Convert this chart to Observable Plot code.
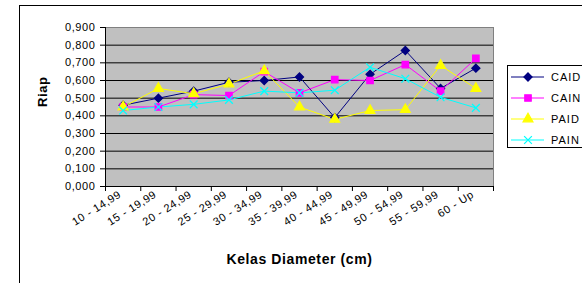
<!DOCTYPE html>
<html><head><meta charset="utf-8">
<script src="https://cdn.jsdelivr.net/npm/d3@7"></script>
<script src="https://cdn.jsdelivr.net/npm/@observablehq/plot@0.6"></script>
<style>
html,body{margin:0;padding:0;background:#fff;}
#wrap{position:relative;width:582px;height:283px;overflow:hidden;font-family:"Liberation Sans",Arial,sans-serif;}
#outer{position:absolute;left:19px;top:5px;width:700px;height:400px;border:1px solid #000;box-sizing:border-box;}
#chart{position:absolute;left:0;top:0;}
#chart svg text{letter-spacing:0.6px;}
#legend{position:absolute;left:507px;top:65px;width:100px;height:83px;border:1px solid #000;background:#fff;box-sizing:border-box;}
.row{position:absolute;left:0;height:14px;display:flex;align-items:center;font-size:11px;color:#000;letter-spacing:1px;}
.row svg{display:block;margin-right:3px;}
</style>
</head><body>
<div id="wrap"><div id="outer"></div><div id="chart"></div><div id="legend"></div></div>
<script>
const categories = ["10 - 14,99","15 - 19,99","20 - 24,99","25 - 29,99","30 - 34,99","35 - 39,99","40 - 44,99","45 - 49,99","50 - 54,99","55 - 59,99","60 - Up"];
const seriesNames = ["CAID","CAIN","PAID","PAIN"];
const CAID = [0.46,0.50,0.54,0.59,0.60,0.62,0.39,0.635,0.77,0.555,0.67];
const CAIN = [0.45,0.45,0.52,0.515,0.65,0.53,0.605,0.60,0.69,0.54,0.725];
const PAID = [0.45,0.555,0.525,0.58,0.655,0.45,0.38,0.43,0.435,0.685,0.555];
const PAIN = [0.43,0.45,0.465,0.49,0.54,0.53,0.545,0.675,0.61,0.505,0.445];
const yTicks = [0,0.1,0.2,0.3,0.4,0.5,0.6,0.7,0.8,0.9];
const colors = ["#000080","#FF00FF","#FFFF00","#00FFFF"];
const symbols = ["diamond2","square","triangle","times"];
const xTitle = "Kelas Diameter (cm)";
const yTitle = "Riap";

const values = [CAID, CAIN, PAID, PAIN];
const rows = seriesNames.flatMap((s, si) => values[si].map((v, i) => ({series: s, i, v})));
const xDomain = [-0.5, categories.length - 0.5];
const bounds = d3.range(categories.length + 1).map(k => k - 0.5);
const fmt = d => d.toFixed(3).replace(".", ",");

const chart = Plot.plot({
  width: 582, height: 283,
  marginLeft: 105, marginRight: 89, marginTop: 27, marginBottom: 97,
  style: {fontFamily: "Liberation Sans, Arial, sans-serif", fontSize: "11px", background: "transparent", color: "#000"},
  x: {type: "linear", domain: xDomain},
  y: {domain: [0, 0.9]},
  color: {domain: seriesNames, range: colors},
  symbol: {domain: seriesNames, range: symbols},
  marks: [
    Plot.frame({fill: "#C0C0C0"}),
    Plot.gridY(yTicks, {stroke: "#000", strokeOpacity: 1}),
    Plot.frame({stroke: "#808080"}),
    Plot.ruleX([xDomain[0]], {stroke: "#000"}),
    Plot.ruleY([0], {stroke: "#000"}),
    Plot.axisY(yTicks, {tickSize: 5, tickPadding: 5, tickFormat: fmt, label: null, fontSize: 11}),
    Plot.axisX(bounds, {tickSize: 5, tickFormat: () => "", label: null}),
    Plot.axisX(d3.range(categories.length), {tickSize: 0, tickPadding: 7, tickRotate: -32, tickFormat: i => categories[i], label: null, fontSize: 11, dx: -3}),
    Plot.line(rows, {x: "i", y: "v", z: "series", stroke: "series", strokeWidth: 1}),
    Plot.dot(rows, {x: "i", y: "v", symbol: "series", fill: "series", stroke: "series", strokeWidth: 1.3, r: 3.6}),
    Plot.text([xTitle], {frameAnchor: "bottom", dy: 77, fontWeight: "bold", fontSize: 14}),
    Plot.text([yTitle], {frameAnchor: "left", dx: -63, rotate: -90, fontWeight: "bold", fontSize: 13})
  ]
});
document.getElementById("chart").appendChild(chart);

const legend = document.getElementById("legend");
const symMap = {diamond2: d3.symbolDiamond2, square: d3.symbolSquare, triangle: d3.symbolTriangle, times: d3.symbolTimes};
seriesNames.forEach((s, k) => {
  const row = document.createElement("div");
  row.className = "row";
  row.style.top = (4 + k * 21) + "px";
  const svg = d3.create("svg").attr("width", 40).attr("height", 14);
  svg.append("line").attr("x1", 3).attr("x2", 36).attr("y1", 7).attr("y2", 7).attr("stroke", colors[k]);
  svg.append("path").attr("transform", "translate(20,7)")
    .attr("d", d3.symbol(symMap[symbols[k]], Math.PI * 3.6 * 3.6)())
    .attr("fill", colors[k]).attr("stroke", colors[k]).attr("stroke-width", 1.3);
  row.appendChild(svg.node());
  const t = document.createElement("span");
  t.textContent = s;
  row.appendChild(t);
  legend.appendChild(row);
});
</script>
</body></html>
